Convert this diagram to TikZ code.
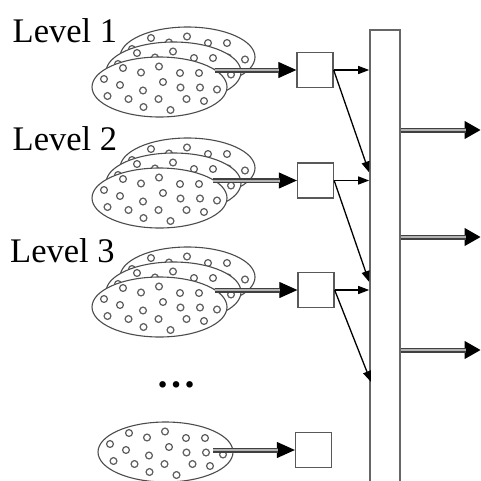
\documentclass[tikz,border=0pt]{standalone}
\usepackage{fontspec}
\setmainfont{Liberation Serif}
\usetikzlibrary{arrows.meta,calc}

\tikzset{
  cloudline/.style={draw=black!70, line width=1.1pt, fill=white},
  grain/.style={draw=black!62, line width=1.25pt},
  % one population: an ellipse holding a fixed pattern of small circles
  pics/dotted cloud/.style={code={
    \draw[cloudline] (0,0) ellipse [x radius=67.5pt, y radius=30pt];
    \foreach \dx/\dy in {-36.5/-19, -18.5/-14.5, -0.5/-20.5, 20.5/-14, 39.5/-14,
                         -55.5/-8, -39.5/-2, -16.5/3.5, 3.5/-5, 21/0.5, 40.5/0.5, 57.5/2.5,
                         -52/9, -31/12, -1/12, 27/12, 44.5/14, -16/20, 11/23}
      \draw[grain] (\dx,\dy) circle [radius=3.4pt];
  }},
  % three populations stacked back to front
  pics/cloud stack/.style={code={
    \pic at (28,-30) {dotted cloud};
    \pic at (14,-15) {dotted cloud};
    \pic at (0,0) {dotted cloud};
  }},
  leveltext/.style={font=\fontsize{34.5}{40}\selectfont, inner sep=0pt, anchor=base west},
  unitbox/.style={draw=black!65, line width=1.3pt, fill=white, minimum width=36pt,
                  minimum height=35pt, inner sep=0pt},
  busbar/.style={draw=black!60, line width=1.6pt, minimum width=30pt,
                 minimum height=490pt, inner sep=0pt},
  thinarrow/.style={-{Triangle[length=11pt,width=8pt]}, line width=1.3pt, black},
  fattip/.style={-{Triangle[length=18pt,width=16pt]}, line width=1pt, black},
  outtip/.style={-{Triangle[length=16pt,width=18pt]}, line width=1pt, black},
  fatshaft/.style={draw=black!75, line width=1.5pt, double=black!30, double distance=2pt},
}

% double-lined arrow with a solid head: #1 = tip style, #2 = head length
\newcommand\fatlink[4]{%
  \draw[#1] (#3) -- (#4);
  \draw[fatshaft, shorten >=#2] (#3) -- (#4);
}

\begin{document}
\begin{tikzpicture}[x=1pt, y=-1pt]
\useasboundingbox (0,0) rectangle (481,480);
\clip (0,0) rectangle (481,480);

% level labels
\node[leveltext] (l1) at (12.5,42) {Level 1};
\node[leveltext] (l2) at (12.5,150) {Level 2};
\node[leveltext] (l3) at (10,262) {Level 3};

% populations
\pic at (159.5,87) {cloud stack};
\pic at (159.5,198) {cloud stack};
\pic at (159.5,307) {cloud stack};
\pic at (165.5,452) {dotted cloud};

\node[font=\bfseries\fontsize{40}{44}\selectfont, inner sep=0pt, anchor=base] (more) at (176,387) {…};

% processing units
\node[unitbox] (b1) at (315,70) {};
\node[unitbox] (b2) at (315.5,180.5) {};
\node[unitbox] (b3) at (316,290) {};
\node[unitbox] (b4) at (313.5,450) {};

% collecting bar
\node[busbar, anchor=north] (bar) at (385,29) {};

% inputs from the populations
\coordinate (s1) at (215,70);
\coordinate (s2) at (213,180.5);
\coordinate (s3) at (215,290);
\coordinate (s4) at (213,450);
\fatlink{fattip}{17pt}{s1}{b1.west}
\fatlink{fattip}{17pt}{s2}{b2.west}
\fatlink{fattip}{17pt}{s3}{b3.west}
\fatlink{fattip}{17pt}{s4}{b4.west}

% units to the bar
\draw[thinarrow] (b1.east) -- (b1.east -| bar.west);
\draw[thinarrow] (b2.east) -- (b2.east -| bar.west);
\draw[thinarrow] (b3.east) -- (b3.east -| bar.west);
\draw[thinarrow] (b1.east) -- ($(b2.east -| bar.west)+(0,-8)$);
\draw[thinarrow] (b2.east) -- ($(b3.east -| bar.west)+(0,-8)$);
\coordinate (d3) at (371,382);
\draw[thinarrow] (b3.east) -- (d3);

% outputs
\coordinate (o1) at (480.5,130);
\coordinate (o2) at (480.5,237);
\coordinate (o3) at (480.5,350);
\fatlink{outtip}{15pt}{bar.east |- o1}{o1}
\fatlink{outtip}{15pt}{bar.east |- o2}{o2}
\fatlink{outtip}{15pt}{bar.east |- o3}{o3}
\end{tikzpicture}
\end{document}
